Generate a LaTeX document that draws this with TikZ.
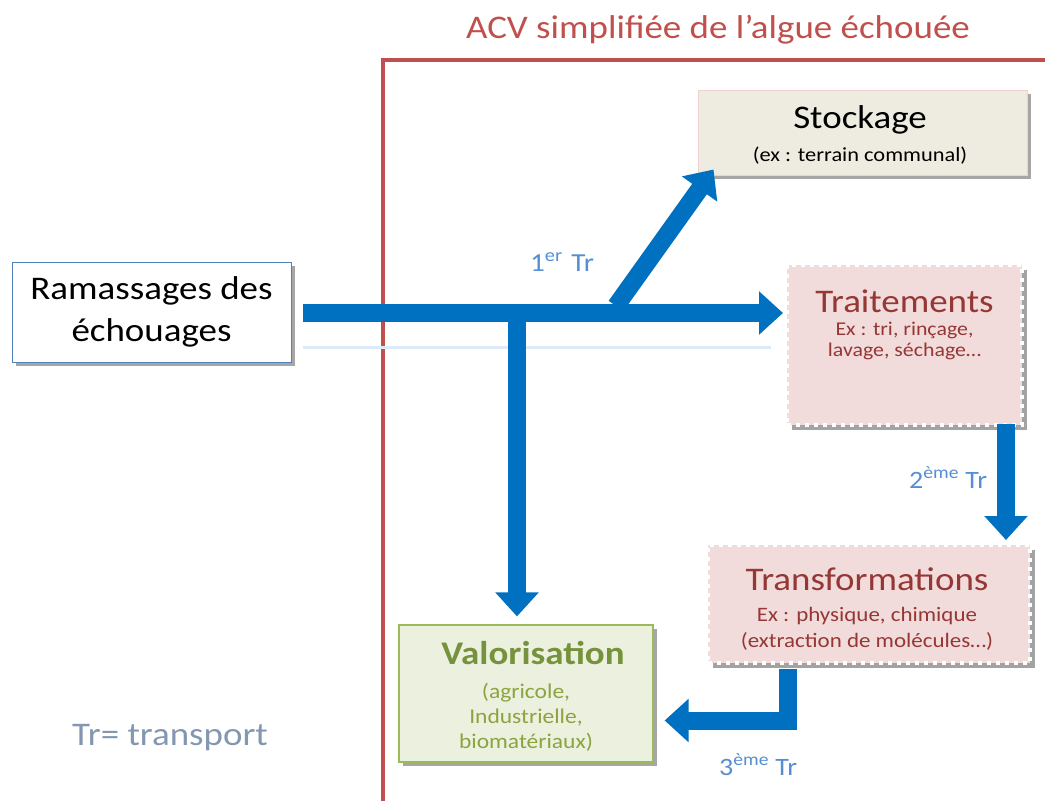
\documentclass[tikz,border=0pt]{standalone}
\usepackage{fontspec}
\setmainfont{Carlito}[FakeStretch=1.12]
\usetikzlibrary{arrows.meta,shadows,calc}
\definecolor{acvred}{HTML}{C0504D}
\definecolor{arrowblue}{HTML}{0070C0}
\definecolor{lblblue}{HTML}{558ED5}
\definecolor{trred}{HTML}{953735}
\definecolor{trfill}{HTML}{F2DCDB}
\definecolor{stofill}{HTML}{EEECE1}
\definecolor{stoborder}{HTML}{F2D0CF}
\definecolor{valfill}{HTML}{EBF1DE}
\definecolor{valborder}{HTML}{9BBB59}
\definecolor{valtext}{HTML}{76923C}
\definecolor{valsub}{HTML}{8CA33F}
\definecolor{ramborder}{HTML}{4F81BD}
\definecolor{legendc}{HTML}{8497B0}
\definecolor{reflect}{HTML}{DCEBF7}
\tikzset{
  bigarrow/.style={draw=arrowblue, line width=18pt, -{Triangle[width=42pt,length=24pt]}},
  boxshadow/.style={drop shadow={shadow xshift=4pt,shadow yshift=-4pt,fill=black,opacity=0.35}},
  ramstyle/.style={draw=ramborder, line width=1pt, fill=white, minimum width=279pt, minimum height=100pt, boxshadow,
    align=center, font=\fontsize{33}{42}\selectfont, inner sep=0pt},
  stostyle/.style={draw=stoborder, line width=1pt, fill=stofill, minimum width=329pt, minimum height=85pt, boxshadow},
  stamp/.style={fill=trfill, draw=white, line width=4pt, dash pattern=on 4pt off 5pt,
    drop shadow={shadow xshift=5pt,shadow yshift=-5pt,fill=gray!80!black,opacity=0.6}},
  valstyle/.style={draw=valborder, line width=1.2pt, fill=valfill, minimum width=254pt, minimum height=137pt, boxshadow},
  bigtxt/.style={font=\fontsize{33}{33}\selectfont, inner sep=0pt},
  smalltxt/.style={font=\fontsize{19.5}{20}\selectfont, inner sep=0pt, align=center},
  trlabel/.style={text=lblblue, font=\fontsize{25}{25}\selectfont, inner sep=0pt},
}
\begin{document}
\begin{tikzpicture}[x=1pt,y=-1pt]
\useasboundingbox (0,0) rectangle (1045,801);
% frame
\draw[acvred, line width=4pt] (383,805) -- (383,60) -- (1050,60);
\node[text=acvred, font=\fontsize{33}{33}\selectfont, inner sep=0pt] (title) at (718,30) {ACV simplifiée de l’algue échouée};

% boxes
\node[ramstyle] (ram) at (151.5,312) {Ramassages des\\échouages};
\node[stostyle] (sto) at (862.5,132.5) {};
\node[bigtxt, anchor=base] (stot) at (860,128) {Stockage};
\node[smalltxt, font=\fontsize{20}{20}\selectfont, anchor=base] (stos) at (860,161) {(ex : terrain communal)};

\node[stamp, minimum width=235pt, minimum height=160pt] (tra) at (904.5,345) {};
\node[bigtxt, text=trred, anchor=base] (trat) at (904.5,312) {Traitements};
\node[smalltxt, text=trred, anchor=base] (tras1) at (904.5,335) {Ex : tri, rinçage,};
\node[smalltxt, text=trred, anchor=base] (tras2) at (904.5,356) {lavage, séchage…};

\node[stamp, minimum width=322pt, minimum height=118pt] (trf) at (869,604) {};
\node[bigtxt, text=trred, anchor=base] (trft) at (867,590) {Transformations};
\node[smalltxt, text=trred, font=\fontsize{20.5}{20}\selectfont, anchor=base] (trfs1) at (867,621) {Ex : physique, chimique};
\node[smalltxt, text=trred, font=\fontsize{20.5}{20}\selectfont, anchor=base] (trfs2) at (867,647) {(extraction de molécules…)};

\node[valstyle] (val) at (526,693.5) {};
\node[bigtxt, text=valtext, font=\bfseries\fontsize{33}{33}\selectfont, anchor=base] (valt) at (533,664) {Valorisation};
\node[smalltxt, text=valsub, font=\fontsize{21}{20}\selectfont, anchor=base] (vals1) at (526,698) {(agricole,};
\node[smalltxt, text=valsub, font=\fontsize{21}{20}\selectfont, anchor=base] (vals2) at (526,723) {Industrielle,};
\node[smalltxt, text=valsub, font=\fontsize{21}{20}\selectfont, anchor=base] (vals3) at (526,748) {biomatériaux)};

% reflection
\draw[reflect, line width=3pt] ($(ram.east)+(11,35)$) -- ($(ram.east -| tra.west)+(-14,35)$);

% arrows
\coordinate (split) at (616,306);
\coordinate (down) at (517,312);
\draw[bigarrow] ($(ram.east)+(11,1)$) -- ($(ram.east -| tra.west)+(-2,1)$);
\draw[bigarrow] (down) -- ($(val.north)+(-9,-8)$);
\draw[bigarrow] (split) -- ($(sto.south west)+(16,-6)$);
\draw[bigarrow] ($(tra.south east)+(-18,-3)$) -- ($(tra.south east |- trf.north)+(-18,-3)$);
\draw[bigarrow, line join=miter] ($(trf.south west)+(82,4)$) |- ($(val.east)+(11,27)$);

% labels
\node[trlabel, font=\fontsize{26}{26}\selectfont, anchor=base west] (l1) at (530,271) {1\textsuperscript{er}\,\,Tr};
\node[trlabel, anchor=base west] (l2) at (909,488) {2\textsuperscript{ème} Tr};
\node[trlabel, anchor=base west] (l3) at (719,775) {3\textsuperscript{ème} Tr};
\node[text=legendc, font=\fontsize{33}{33}\selectfont, anchor=base west, inner sep=0pt] (leg) at (72,745) {Tr= transport};
\end{tikzpicture}
\end{document}
